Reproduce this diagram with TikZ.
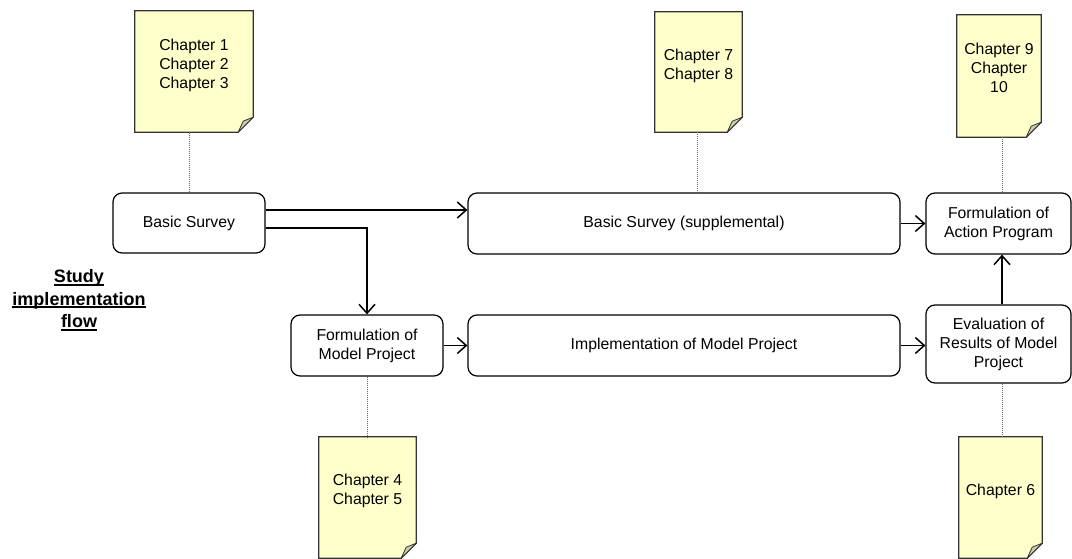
\documentclass[tikz,border=0pt]{standalone}
\usepackage{fontspec}
\setmainfont{Liberation Sans}
\usetikzlibrary{arrows.meta,backgrounds}
\definecolor{notefill}{HTML}{FFFFCC}
\definecolor{foldfill}{HTML}{CDCDAA}
\definecolor{notedraw}{HTML}{333333}
\definecolor{dotcol}{HTML}{666666}
\newcommand{\myul}[1]{\setbox0\hbox{#1}\rlap{\rule[-3pt]{\wd0}{1.7pt}}\box0}
\newcommand{\docnote}[6]{%
  \node[notebox, minimum width=#4pt, minimum height=#5pt] (#1) at (#2,#3)
    {\raisebox{6pt}[\height][\depth]{\begin{tabular}{@{}c@{}}#6\end{tabular}}};
  \begin{scope}[on background layer]
    \fill[notefill] (#1.north west) -- (#1.north east) -- ([yshift=15pt]#1.south east)
      -- ([xshift=-15pt]#1.south east) -- (#1.south west) -- cycle;
  \end{scope}
  \draw[notedraw, line width=1.2pt] (#1.north west) -- (#1.north east) -- ([yshift=15pt]#1.south east)
      -- ([xshift=-15pt]#1.south east) -- (#1.south west) -- cycle;
  \filldraw[fill=foldfill, draw=notedraw, line width=0.8pt, line join=round]
    ([yshift=15pt]#1.south east) -- ([shift={(-10pt,11pt)}]#1.south east)
    -- ([xshift=-15pt]#1.south east) -- cycle;
}
\tikzset{
  txt/.style={font=\fontsize{15.8}{19}\selectfont},
  notebox/.style={rectangle, draw=none, inner sep=0pt, txt},
  flowbox/.style={rectangle, rounded corners=9pt, draw=black, line width=1.2pt,
    align=center, inner sep=0pt, txt, fill=white},
  arr/.style={line width=1.6pt, -{Straight Barb[length=9pt,width=16pt,line width=1.5pt]}},
  dotline/.style={draw=dotcol, line width=0.8pt, dash pattern=on 1pt off 1pt},
  titletxt/.style={font=\fontsize{18}{22.5}\selectfont\bfseries, align=center}
}
\begin{document}
\begin{tikzpicture}[x=1pt,y=-1pt]
\useasboundingbox (0,0) rectangle (1072,559);

% flow boxes
\node[flowbox, minimum width=152pt, minimum height=60pt] (bs) at (189,223) {Basic Survey};
\node[flowbox, minimum width=432pt, minimum height=61pt] (bss) at (684,223.5) {Basic Survey (supplemental)};
\node[flowbox, minimum width=145pt, minimum height=61pt] (act) at (998.5,223.5) {Formulation of\\Action Program};
\node[flowbox, minimum width=152pt, minimum height=61pt] (fmp) at (367,345.5) {Formulation of\\Model Project};
\node[flowbox, minimum width=432pt, minimum height=61pt] (imp) at (684,345.5) {Implementation of Model Project};
\node[flowbox, minimum width=145pt, minimum height=78pt] (eva) at (998.5,344) {Evaluation of\\Results of Model\\Project};

% title
\node[titletxt] (title) at (79,300) {\myul{Study}\\\myul{implementation}\\\myul{flow}};

% document notes
\docnote{n1}{194}{71.5}{118}{121}{Chapter 1\\Chapter 2\\Chapter 3}
\docnote{n2}{698.5}{72}{87}{120}{Chapter 7\\Chapter 8}
\docnote{n3}{999}{76}{84}{122}{Chapter 9\\Chapter\\10}
\docnote{n4}{367.5}{497.5}{97}{121}{Chapter 4\\Chapter 5}
\docnote{n5}{1000.5}{497.5}{83}{121}{Chapter 6}

% dotted links
\draw[dotline] (bs.north) -- (bs.north |- n1.south);
\draw[dotline] ([xshift=-1pt]n2.south) -- ([xshift=-1pt]n2.south |- bss.north);
\draw[dotline] ([xshift=3pt]n3.south) -- ([xshift=3pt]n3.south |- act.north);
\draw[dotline] (fmp.south) -- (fmp.south |- n4.north);
\draw[dotline] ([xshift=1.5pt]n5.north) -- ([xshift=1.5pt]n5.north |- eva.south);

% arrows
\draw[arr] ([yshift=13pt]bs.east) -- ([yshift=13pt]bs.east -| bss.west);
\draw[arr] ([yshift=-5pt]bs.east) -| (fmp.north);
\draw[arr] (bss.east) -- (bss.east -| act.west);
\draw[arr] (fmp.east) -- (fmp.east -| imp.west);
\draw[arr] (imp.east) -- (imp.east -| eva.west);
\draw[arr] ([xshift=3.5pt]eva.north) -- ([xshift=3.5pt]eva.north |- act.south);
\end{tikzpicture}
\end{document}
